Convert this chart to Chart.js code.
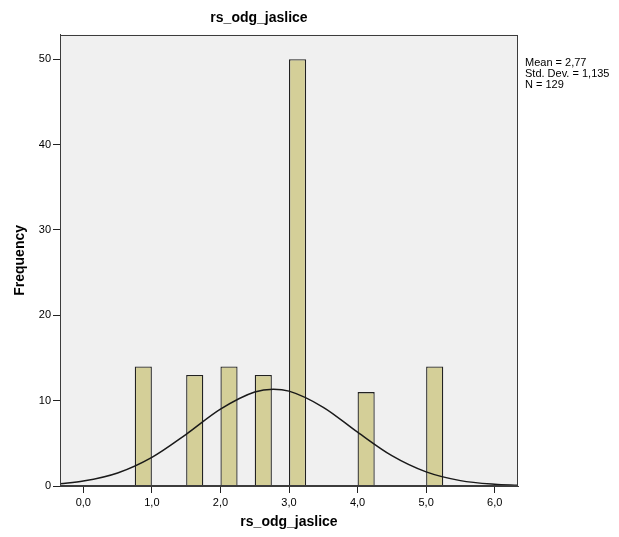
<!DOCTYPE html>
<html>
<head>
<meta charset="utf-8">
<script src="https://cdn.jsdelivr.net/npm/chart.js@4.4.1/dist/chart.umd.min.js"></script>
<style>
    html, body { margin: 0; padding: 0; background: #fff; }
    #hist { display: block; }
</style>
</head>
<body>
<canvas id="hist" width="619" height="537"></canvas>
<script>
// histogram bins (left edge of each bin) and counts
const binStarts = [0.75, 1.5, 2.0, 2.5, 3.0, 4.0, 5.0];
const binWidth = 0.25;
const counts = [14, 13, 14, 13, 50, 11, 14];

// normal curve
const curveX = [-0.34, 0, 0.5, 1.0, 1.5, 2.0, 2.5, 2.77, 3.0, 3.5, 4.0, 4.5, 5.0, 5.5, 6.0, 6.34];
const curveY = [0.27, 0.58, 1.53, 3.36, 6.06, 9.01, 11.02, 11.34, 11.11, 9.22, 6.30, 3.55, 1.65, 0.63, 0.20, 0.08];

const xTicks = [0, 1, 2, 3, 4, 5, 6];
const yTicks = [0, 10, 20, 30, 40, 50];
const statsText = ['Mean = 2,77', 'Std. Dev. = 1,135', 'N = 129'];

const fontFamily = "'Liberation Sans', Arial, sans-serif";

var barData = [];
binStarts.forEach((s, i) => {
    barData.push({ x: s + binWidth / 2, y: counts[i] });
});
var lineData = [];
curveX.forEach((x, i) => {
    lineData.push({ x: x, y: curveY[i] });
});

const plotBox = {
    id: 'plotBox',
    beforeDraw(chart) {
        const { ctx, chartArea: a } = chart;
        ctx.save();
        ctx.fillStyle = '#f0f0f0';
        ctx.fillRect(a.left, a.top, a.right - a.left, a.bottom - a.top);
        ctx.restore();
    },
    afterDraw(chart) {
        const { ctx, chartArea: a } = chart;
        ctx.save();
        ctx.strokeStyle = '#3c3c3c';
        ctx.lineWidth = 1;
        ctx.strokeRect(Math.round(a.left) + 0.5, Math.round(a.top) + 0.5,
            Math.round(a.right - a.left) - 1, Math.round(a.bottom - a.top) - 1);
        // stats box on the right
        ctx.fillStyle = '#000';
        ctx.font = '11px ' + fontFamily;
        ctx.textBaseline = 'middle';
        statsText.forEach((t, i) => {
            ctx.fillText(t, a.right + 7, 63 + i * 10.8);
        });
        ctx.restore();
    }
};

var ctx = document.getElementById('hist').getContext('2d');
var chart = new Chart(ctx, {
    data: {
        datasets: [{
            type: 'line',
            data: lineData,
            borderColor: '#1a1a1a',
            borderWidth: 1.5,
            pointRadius: 0,
            cubicInterpolationMode: 'monotone',
            order: 0
        }, {
            type: 'bar',
            data: barData,
            backgroundColor: '#d4cf98',
            borderColor: '#222',
            borderWidth: 1.3,
            barPercentage: 1,
            categoryPercentage: 0.5,
            order: 1
        }]
    },
    options: {
        responsive: false,
        devicePixelRatio: 1,
        animation: false,
        layout: { padding: { top: 0, right: 101, bottom: 0, left: 0 } },
        plugins: {
            legend: { display: false },
            tooltip: { enabled: false },
            title: {
                display: true,
                text: 'rs_odg_jaslice',
                color: '#000',
                font: { family: fontFamily, size: 14, weight: 'bold' },
                padding: { top: 10, bottom: 8 }
            }
        },
        scales: {
            x: {
                type: 'linear',
                min: -0.34,
                max: 6.34,
                offset: false,
                afterBuildTicks: (scale) => {
                    scale.ticks = xTicks.map(v => ({ value: v }));
                },
                afterFit: (scale) => { scale.height = 51; },
                ticks: {
                    color: '#000',
                    padding: 3,
                    maxRotation: 0,
                    autoSkip: false,
                    font: { family: fontFamily, size: 11 },
                    callback: v => v.toFixed(1).replace('.', ',')
                },
                grid: { drawOnChartArea: false, offset: false, tickLength: 7, color: '#222' },
                border: { display: true, color: '#3c3c3c' },
                title: {
                    display: true,
                    text: 'rs_odg_jaslice',
                    color: '#000',
                    font: { family: fontFamily, size: 14, weight: 'bold' },
                    padding: { top: 0, bottom: 6 }
                }
            },
            y: {
                min: 0,
                max: 52.85,
                afterBuildTicks: (scale) => {
                    scale.ticks = yTicks.map(v => ({ value: v }));
                },
                afterFit: (scale) => { scale.width = 60; },
                ticks: {
                    color: '#000',
                    padding: 2,
                    font: { family: fontFamily, size: 11 }
                },
                grid: { drawOnChartArea: false, tickLength: 7, color: '#222' },
                border: { display: true, color: '#3c3c3c' },
                title: {
                    display: true,
                    text: 'Frequency',
                    color: '#000',
                    font: { family: fontFamily, size: 14, weight: 'bold' },
                    padding: { top: 12, bottom: 0 }
                }
            }
        }
    },
    plugins: [plotBox]
});
</script>
</body>
</html>
